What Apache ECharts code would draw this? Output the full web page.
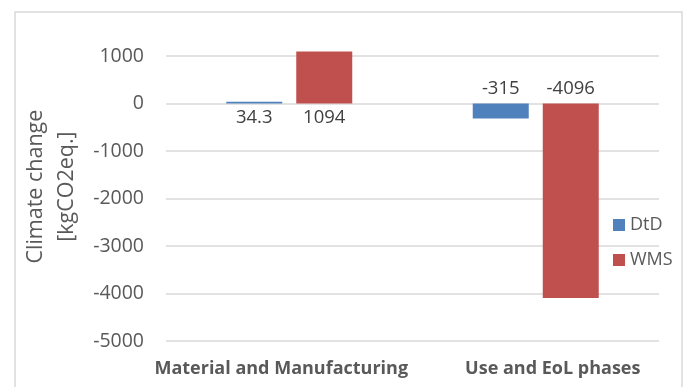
<!DOCTYPE html>
<html><head><meta charset="utf-8">
<script src="https://cdn.jsdelivr.net/npm/echarts@6/dist/echarts.min.js"></script>
<style>html,body{margin:0;padding:0;background:#fff}#c{width:687px;height:387px}</style>
</head><body><div id="c"></div>
<script>
const categories = ['Material and Manufacturing', 'Use and EoL phases'];
const dtd = [34.3, -315];
const wms = [1094, -4096];
const dtdLabels = ['34.3', '-315'];
const wmsLabels = ['1094', '-4096'];
const yTicks = [1000, 0, -1000, -2000, -3000, -4000, -5000];

function items(vals, labs) {
  return vals.map((v, i) => ({
    value: v,
    label: { position: v >= 0 ? 'bottom' : 'top', formatter: labs[i] }
  }));
}
const catPads = [[0, 16, 0, 0], [0, 0, 0, 34]];
const chart = echarts.init(document.getElementById('c'), null, {renderer: 'canvas'});
const labelStyle = { show: true, fontFamily: 'Open Sans', fontSize: 18.5, color: '#404040', distance: 5 };
chart.setOption({
  animation: false,
  textStyle: { fontFamily: 'Open Sans' },
  graphic: [{ type: 'rect', shape: { x: 15, y: 12, width: 667, height: 400 }, style: { fill: 'none', stroke: '#d9d9d9', lineWidth: 1.5 }, silent: true }],
  grid: { left: 166, right: 28, top: 32.2, bottom: 46, containLabel: false },
  legend: {
    orient: 'vertical', left: 608, top: 211, itemWidth: 12, itemHeight: 12, itemGap: 17,
    icon: 'rect', textStyle: { fontSize: 18, color: '#595959', fontFamily: 'Open Sans' },
    data: ['DtD', 'WMS']
  },
  xAxis: {
    type: 'category',
    data: categories.map((c, i) => ({ value: c, textStyle: { padding: catPads[i] } })),
    axisLine: { show: false }, axisTick: { show: false },
    axisLabel: { interval: 0, fontSize: 18, fontWeight: 'bold', color: '#595959', margin: 19, fontFamily: 'Open Sans' }
  },
  yAxis: {
    type: 'value', min: -5000, max: 1500, interval: 1000,
    name: 'Climate change\n[kgCO2eq.]', nameLocation: 'middle', nameRotate: 90, nameGap: 77,
    nameTextStyle: { fontSize: 21.5, color: '#595959', lineHeight: 31, fontFamily: 'Open Sans' },
    axisLine: { show: false }, axisTick: { show: false },
    axisLabel: { fontSize: 19.5, color: '#595959', margin: 22, fontFamily: 'Open Sans', showMaxLabel: false,
      formatter: v => (yTicks.indexOf(v) >= 0 ? String(v) : '') },
    splitLine: { showMaxLine: false, lineStyle: { color: '#d9d9d9', width: 1.5 } }
  },
  series: [
    { name: 'DtD', type: 'bar', data: items(dtd, dtdLabels), barWidth: 56, barGap: '25%',
      itemStyle: { color: '#4f81bd' }, label: labelStyle },
    { name: 'WMS', type: 'bar', data: items(wms, wmsLabels), barWidth: 56, barGap: '25%',
      itemStyle: { color: '#c0504d' }, label: labelStyle }
  ]
});
</script></body></html>
